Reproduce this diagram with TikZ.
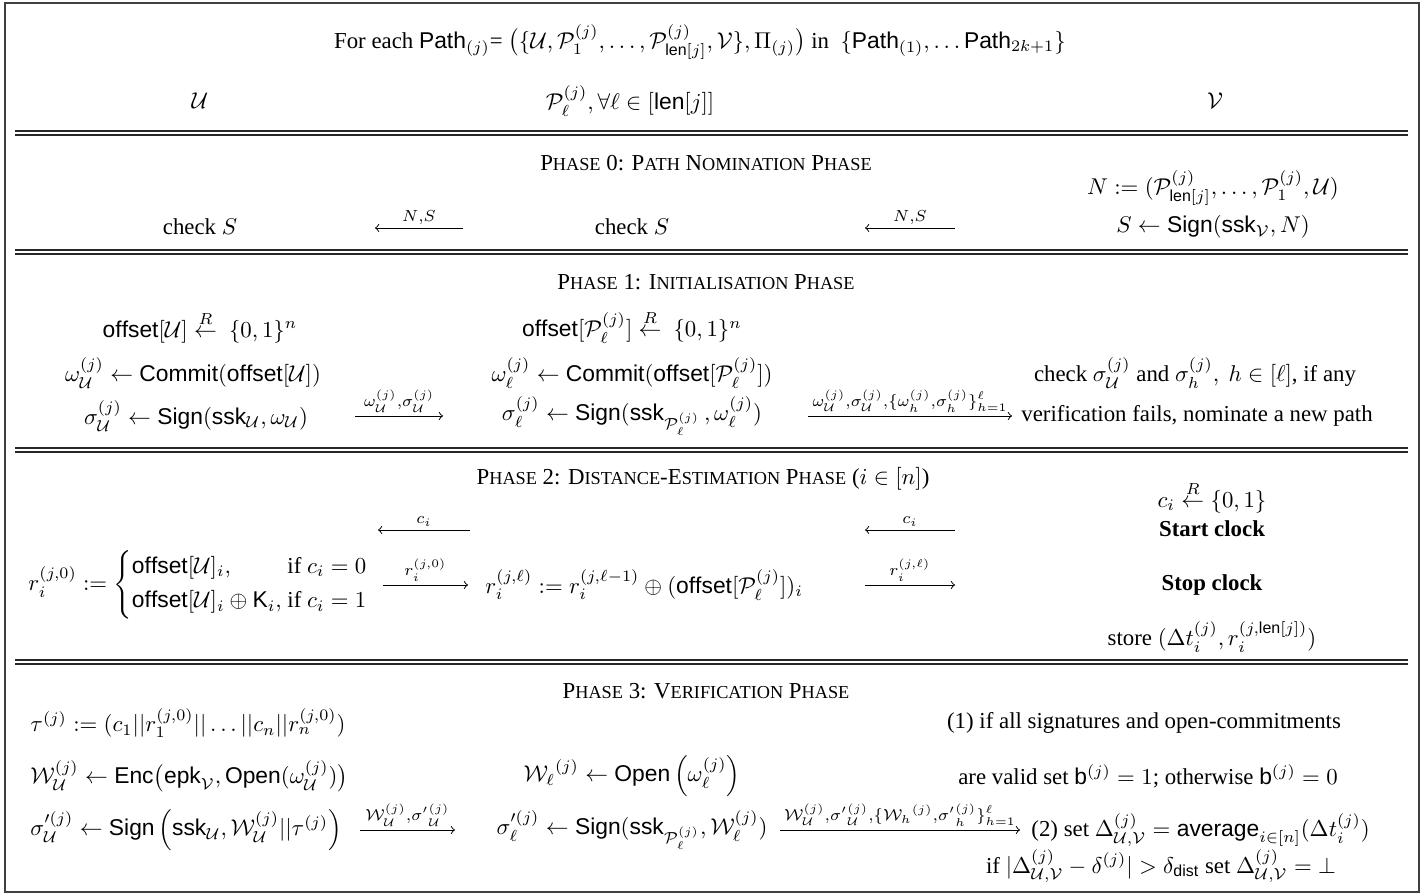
\documentclass[tikz,border=0pt]{standalone}
\usepackage{amsmath,amssymb}
\usepackage{fontspec}
\setmainfont{Liberation Serif}
\setsansfont{Liberation Sans}
\newcommand{\Sc}[1]{{\fontsize{8}{9}\selectfont #1}}
\tikzset{
  txt/.style={inner sep=0pt, font=\fontsize{10}{12}\selectfont},
  msg/.style={->, line width=0.4pt},
  lbl/.style={inner sep=1.5pt, font=\scriptsize},
  rule/.style={line width=0.65pt, draw=black!85},
  frame/.style={line width=0.7pt, draw=black!75}
}
\begin{document}
\begin{tikzpicture}[x=0.438pt,y=-0.438pt]
\useasboundingbox (0,0) rectangle (1424,896);
\draw[frame] (5,3) rectangle (1419,892);
% double rules
\foreach \y in {131,250,448,660}{
  \draw[rule] (15,\y) -- (1408,\y);
  \draw[rule] (15,\y+4) -- (1408,\y+4);
}
% header
\node[txt] (title) at (700,42) {For each $\mathsf{Path}_{(j)}$= $\big(\{\mathcal U,\mathcal P_1^{(j)},\dots,\mathcal P^{(j)}_{\mathsf{len}[j]},\mathcal V\},\Pi_{(j)}\big)$ in \ $\{\mathsf{Path}_{(1)},\dots\mathsf{Path}_{2k+1}\}$};
\node[txt] (hU) at (200,101) {$\mathcal U$};
\node[txt] (hP) at (630,101) {$\mathcal P_\ell^{(j)},\forall\ell\in[\mathsf{len}[j]]$};
\node[txt] (hV) at (1215,101) {$\mathcal V$};
% phase 0
\node[txt] (ph0) at (706,163) {P\Sc{HASE} 0: P\Sc{ATH} N\Sc{OMINATION} P\Sc{HASE}};
\node[txt] (N) at (1213,188) {$N := (\mathcal P^{(j)}_{\mathsf{len}[j]},\dots,\mathcal P^{(j)}_1,\mathcal U)$};
\node[txt] (chkU) at (200,227) {check $S$};
\node[txt] (chkP) at (632,227) {check $S$};
\node[txt] (S) at (1213,227) {$S\leftarrow\mathsf{Sign}(\mathsf{ssk}_{\mathcal V},N)$};
\coordinate (a0s) at (463,228); \coordinate (a0e) at (375,228);
\coordinate (b0s) at (955,228); \coordinate (b0e) at (865,228);
\draw[msg] (a0s) -- node[lbl,above]{$N{,}S$} (a0e);
\draw[msg] (b0s) -- node[lbl,above]{$N{,}S$} (b0e);
% phase 1
\node[txt] (ph1) at (706,282) {P\Sc{HASE} 1: I\Sc{NITIALISATION} P\Sc{HASE}};
\node[txt] (offU) at (200,327) {$\mathsf{offset}[\mathcal U]\overset{R}{\leftarrow}\ \{0,1\}^n$};
\node[txt] (offP) at (632,327) {$\mathsf{offset}[\mathcal P^{(j)}_\ell]\overset{R}{\leftarrow}\ \{0,1\}^n$};
\node[txt] (omU) at (193,373) {$\omega^{(j)}_{\mathcal U}\leftarrow\mathsf{Commit}(\mathsf{offset}[\mathcal U])$};
\node[txt] (omP) at (632,373) {$\omega^{(j)}_\ell\leftarrow\mathsf{Commit}(\mathsf{offset}[\mathcal P^{(j)}_\ell])$};
\node[txt] (chkV) at (1195,373) {check $\sigma^{(j)}_{\mathcal U}$ and $\sigma^{(j)}_h,\ h\in[\ell]$, if any};
\node[txt] (sgU) at (196,416) {$\sigma^{(j)}_{\mathcal U}\leftarrow\mathsf{Sign}(\mathsf{ssk}_{\mathcal U},\omega_{\mathcal U})$};
\node[txt] (sgP) at (632,416) {$\sigma^{(j)}_\ell\leftarrow\mathsf{Sign}(\mathsf{ssk}_{\mathcal P^{(j)}_\ell}\,,\omega^{(j)}_\ell)$};
\node[txt] (verV) at (1197,416) {verification fails, nominate a new path};
\coordinate (a1s) at (355,416); \coordinate (a1e) at (443,416);
\coordinate (b1s) at (808,416); \coordinate (b1e) at (1012,416);
\draw[msg] (a1s) -- node[lbl,above]{$\omega^{(j)}_{\mathcal U}{,}\sigma^{(j)}_{\mathcal U}$} (a1e);
\draw[msg] (b1s) -- node[lbl,above]{$\omega^{(j)}_{\mathcal U}{,}\sigma^{(j)}_{\mathcal U}{,}\{\omega^{(j)}_h{,}\sigma^{(j)}_h\}^\ell_{h=1}$} (b1e);
% phase 2
\node[txt] (ph2) at (703,479) {P\Sc{HASE} 2: D\Sc{ISTANCE}-E\Sc{STIMATION} P\Sc{HASE} ($i\in[n]$)};
\node[txt] (ci) at (1212,497) {$c_i\overset{R}{\leftarrow}\{0,1\}$};
\node[txt] (start) at (1212,529) {\textbf{Start clock}};
\coordinate (a2s) at (470,530); \coordinate (a2e) at (378,530);
\coordinate (b2s) at (955,530); \coordinate (b2e) at (865,530);
\draw[msg] (a2s) -- node[lbl,above]{$c_i$} (a2e);
\draw[msg] (b2s) -- node[lbl,above]{$c_i$} (b2e);
\node[txt,anchor=west] (rU) at (28,585) {$r^{(j,0)}_i := \left\{\begin{array}{@{}l@{\ }l@{}}\mathsf{offset}[\mathcal U]_i, & \text{if } c_i=0\\[3pt] \mathsf{offset}[\mathcal U]_i\oplus\mathsf K_i, & \text{if } c_i=1\end{array}\right.$};
\coordinate (a3s) at (383,585); \coordinate (a3e) at (468,585);
\coordinate (b3s) at (865,585); \coordinate (b3e) at (955,585);
\draw[msg] (a3s) -- node[lbl,above]{$r^{(j,0)}_i$} (a3e);
\node[txt,anchor=west] (rP) at (485,585) {$r^{(j,\ell)}_i := r^{(j,\ell-1)}_i\oplus(\mathsf{offset}[\mathcal P^{(j)}_\ell])_i$};
\draw[msg] (b3s) -- node[lbl,above]{$r^{(j,\ell)}_i$} (b3e);
\node[txt] (stop) at (1212,585) {\textbf{Stop clock}};
\node[txt] (store) at (1212,637) {store $(\Delta t^{(j)}_i, r^{(j,\mathsf{len}[j])}_i)$};
% phase 3
\node[txt] (ph3) at (706,691) {P\Sc{HASE} 3: V\Sc{ERIFICATION} P\Sc{HASE}};
\node[txt,anchor=west] (tau) at (30,723) {$\tau^{(j)} := (c_1||r^{(j,0)}_1||\dots||c_n||r^{(j,0)}_n)$};
\node[txt] (v1) at (1144,723) {(1) if all signatures and open-commitments};
\node[txt,anchor=west] (WU) at (30,776) {$\mathcal W^{(j)}_{\mathcal U}\leftarrow\mathsf{Enc}\big(\mathsf{epk}_{\mathcal V},\mathsf{Open}(\omega^{(j)}_{\mathcal U})\big)$};
\node[txt] (WP) at (632,776) {${\mathcal W_\ell}^{(j)}\leftarrow\mathsf{Open}\left(\omega^{(j)}_\ell\right)$};
\node[txt] (v2) at (1148,776) {are valid set $\mathsf b^{(j)}=1$; otherwise $\mathsf b^{(j)}=0$};
\node[txt,anchor=west] (spU) at (30,830) {$\sigma'^{(j)}_{\mathcal U}\leftarrow\mathsf{Sign}\left(\mathsf{ssk}_{\mathcal U},\mathcal W^{(j)}_{\mathcal U}||\tau^{(j)}\right)$};
\node[txt] (spP) at (632,830) {$\sigma'^{(j)}_\ell\leftarrow\mathsf{Sign}(\mathsf{ssk}_{\mathcal P^{(j)}_\ell},\mathcal W^{(j)}_\ell)$};
\coordinate (a4s) at (360,830); \coordinate (a4e) at (455,830);
\coordinate (b4s) at (780,830); \coordinate (b4e) at (1020,830);
\draw[msg] (a4s) -- node[lbl,above]{$\mathcal W^{(j)}_{\mathcal U}{,}{\sigma'}^{(j)}_{\mathcal U}$} (a4e);
\draw[msg] (b4s) -- node[lbl,above]{$\mathcal W^{(j)}_{\mathcal U}{,}{\sigma'}^{(j)}_{\mathcal U}{,}\{{\mathcal W_h}^{(j)}{,}{\sigma'}^{(j)}_h\}^\ell_{h=1}$} (b4e);
\node[txt,anchor=west] (v3) at (1031,830) {(2) set $\Delta^{(j)}_{\mathcal U,\mathcal V}=\mathsf{average}_{i\in[n]}(\Delta t^{(j)}_i)$};
\node[txt] (v4) at (1161,866) {if $|\Delta^{(j)}_{\mathcal U,\mathcal V}-\delta^{(j)}|>\delta_{\mathsf{dist}}$ set $\Delta^{(j)}_{\mathcal U,\mathcal V}=\bot$};
\end{tikzpicture}
\end{document}
